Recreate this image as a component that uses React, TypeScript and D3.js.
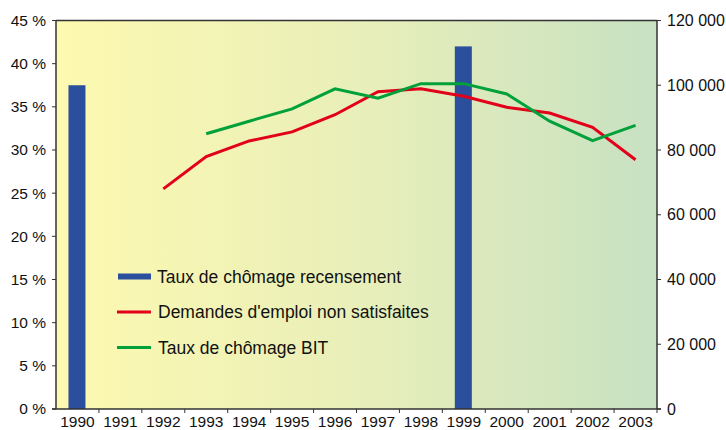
import React from 'react'
import * as d3 from 'd3'

const years = ['1990', '1991', '1992', '1993', '1994', '1995', '1996', '1997', '1998', '1999', '2000', '2001', '2002', '2003']

// taux de chômage au recensement (%), axe de gauche
const recensement: (number | null)[] = [37.5, null, null, null, null, null, null, null, null, 42, null, null, null, null]

// demandes d'emploi non satisfaites, axe de droite
const demandes: (number | null)[] = [null, null, 68000, 78000, 82800, 85600, 90900, 98000, 98900, 96600, 93200, 91400, 87000, 77000]

// taux de chômage BIT, exprimé sur l'axe de droite
const bit: (number | null)[] = [null, null, null, 85000, 88900, 92700, 98900, 96000, 100500, 100500, 97300, 88900, 82900, 87600]

const leftTicks = [0, 5, 10, 15, 20, 25, 30, 35, 40, 45]
const rightTicks = [0, 20000, 40000, 60000, 80000, 100000, 120000]

const legendItems = [
  { label: 'Taux de chômage recensement', color: '#2b4f9d', width: 6 },
  { label: "Demandes d'emploi non satisfaites", color: '#e2001a', width: 3 },
  { label: 'Taux de chômage BIT', color: '#00a03a', width: 3 },
]

const W = 726
const H = 430
const margin = { top: 20.5, right: 69, bottom: 21, left: 56 }
const FONT = 'Liberation Sans, Arial, sans-serif'

export default function App() {
  const innerW = W - margin.left - margin.right
  const innerH = H - margin.top - margin.bottom

  const x = d3.scaleBand().domain(years).range([0, innerW])
  const yLeft = d3.scaleLinear().domain([0, 45]).range([innerH, 0])
  const yRight = d3.scaleLinear().domain([0, 120000]).range([innerH, 0])
  const cx = (i: number) => (x(years[i]) ?? 0) + x.bandwidth() / 2

  const line = d3.line<number | null>()
    .defined((d) => d !== null)
    .x((_, i) => cx(i))
    .y((d) => yRight(d as number))

  const fmtRight = (v: number) => (v === 0 ? '0' : d3.format(',')(v).replace(/,/g, ' '))
  const barW = 17

  return (
    <svg width={W} height={H} style={{ position: 'absolute', left: 0, top: 0, fontFamily: FONT }}>
      <defs>
        <linearGradient id="bg" x1="0" x2="1" y1="0" y2="0">
          <stop offset="0%" stopColor="#fdf9b0" />
          <stop offset="50%" stopColor="#e9efb9" />
          <stop offset="100%" stopColor="#c7e1c2" />
        </linearGradient>
      </defs>
      <rect width={W} height={H} fill="#fff" />
      <g transform={`translate(${margin.left},${margin.top})`}>
        <rect width={innerW} height={innerH} fill="url(#bg)" />

        {recensement.map((v, i) =>
          v === null ? null : (
            <rect key={i} x={cx(i) - barW / 2 - 0.5} y={yLeft(v)} width={barW} height={innerH - yLeft(v)} fill="#2b4f9d" />
          )
        )}

        <path d={line(demandes) ?? ''} fill="none" stroke="#e2001a" strokeWidth={3} />
        <path d={line(bit) ?? ''} fill="none" stroke="#00a03a" strokeWidth={3} />

        {/* cadre */}
        <line x1={0} x2={innerW} y1={0} y2={0} stroke="#333" strokeWidth={1.5} />
        <line x1={0} x2={0} y1={0} y2={innerH} stroke="#333" strokeWidth={1.5} />
        <line x1={innerW} x2={innerW} y1={0} y2={innerH} stroke="#333" strokeWidth={1.5} />
        <line x1={-4} x2={innerW + 4} y1={innerH} y2={innerH} stroke="#333" strokeWidth={1.5} />

        {leftTicks.map((t) => (
          <g key={t} transform={`translate(0,${yLeft(t)})`}>
            <line x1={-4} x2={0} stroke="#333" />
            <text x={-10} dy="0.35em" textAnchor="end" fontSize={15.5} fill="#111">{`${t} %`}</text>
          </g>
        ))}

        {rightTicks.map((t) => (
          <g key={t} transform={`translate(${innerW},${yRight(t)})`}>
            <line x1={0} x2={4} stroke="#333" />
            <text x={10} dy="0.35em" textAnchor="start" fontSize={16} fill="#111">{fmtRight(t)}</text>
          </g>
        ))}

        {years.map((yr, i) => (
          <g key={yr}>
            <line x1={x(yr)! + x.bandwidth()} x2={x(yr)! + x.bandwidth()} y1={innerH} y2={innerH + 4} stroke="#333" />
            <text x={cx(i)} y={innerH + 18} textAnchor="middle" fontSize={15.5} fill="#111">{yr}</text>
          </g>
        ))}
      </g>

      <g transform="translate(117,276.5)">
        {legendItems.map((it, i) => (
          <g key={it.label} transform={`translate(0,${i * 35.5})`}>
            <line x1={i === 0 ? 1 : 0} x2={34} stroke={it.color} strokeWidth={it.width} />
            <text x={i === 0 ? 40 : 41} dy="0.35em" fontSize={17.5} fill="#111">{it.label}</text>
          </g>
        ))}
      </g>
    </svg>
  )
}
